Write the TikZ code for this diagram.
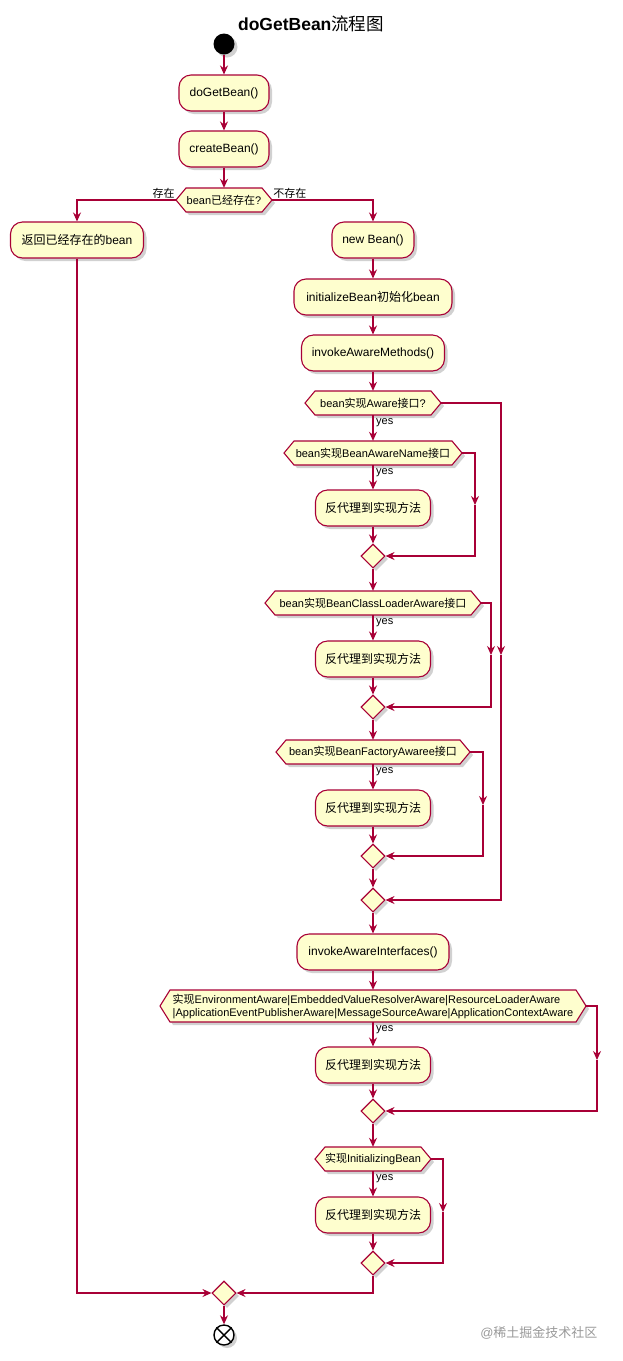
\documentclass[tikz,border=0pt]{standalone}
\usepackage{fontspec}
\setmainfont{Liberation Sans}
\newfontfamily\cjk{Noto Sans CJK SC}
\usetikzlibrary{shapes.geometric,shadows,arrows.meta}
\definecolor{pfill}{HTML}{FEFECE}
\definecolor{pline}{HTML}{A80036}
\newcommand\zh[1]{{\cjk #1}}
\newcommand\hexa[6]{%
  \path[hexp] ({#2-#4},#3) -- ({#2-#4+10},{#3-#5}) -- ({#2+#4-10},{#3-#5}) -- ({#2+#4},#3) -- ({#2+#4-10},{#3+#5}) -- ({#2-#4+10},{#3+#5}) -- cycle;
  \node[dec, minimum width={2*#4pt}, minimum height={2*#5pt}] (#1) at (#2,#3) {#6};}
\begin{document}
\begin{tikzpicture}[x=1pt,y=-1pt,
  every node/.style={font=\fontsize{12}{14}\selectfont},
  shad/.style={drop shadow={shadow xshift=3pt,shadow yshift=-3pt,opacity=0.3,fill=black!60}},
  act/.style={draw=pline,fill=pfill,line width=1.1pt,rounded corners=12pt,minimum height=36pt,inner sep=0pt,shad},
  dec/.style={inner sep=0pt,align=left,font=\fontsize{11}{13}\selectfont},
  hexp/.style={draw=pline,fill=pfill,line width=1.1pt,shad},
  merge/.style={diamond,draw=pline,fill=pfill,line width=1.1pt,minimum width=24pt,minimum height=24pt,inner sep=0pt,aspect=1,shad},
  arr/.style={draw=pline,line width=1.1pt,-{Stealth[length=9pt,width=8pt,inset=3pt]}},
  lab/.style={font=\fontsize{11}{13}\selectfont,inner sep=1pt},
]
\useasboundingbox (0,0) rectangle (622,1361);

\node (title) at (311,24) {\fontsize{17.5}{20}\selectfont\textbf{doGetBean}\zh{流程图}};
\node[circle,fill=black,minimum size=21pt,inner sep=0pt,shad] (start) at (224,44) {};

\node[act,minimum width=90pt] (b1) at (224,93) {doGetBean()};
\node[act,minimum width=90pt] (b2) at (224,149) {createBean()};
\hexa{d1}{224}{200}{48}{12}{bean\zh{已经存在}?}
\node[act,minimum width=133pt] (ret) at (77,240) {\zh{返回已经存在的}bean};
\node[act,minimum width=82pt] (newb) at (373,240) {new Bean()};
\node[act,minimum width=158pt] (init) at (373,297) {initializeBean\zh{初始化}bean};
\node[act,minimum width=143pt] (iam) at (373,353) {invokeAwareMethods()};
\hexa{dA}{373}{403}{68}{12}{bean\zh{实现}Aware\zh{接口}?}
\hexa{dN}{373}{453}{89}{12}{bean\zh{实现}BeanAwareName\zh{接口}}
\node[act,minimum width=115pt] (p1) at (373,508) {\zh{反代理到实现方法}};
\node[merge] (m1) at (373,556) {};
\hexa{dCL}{373}{603}{108}{12}{bean\zh{实现}BeanClassLoaderAware\zh{接口}}
\node[act,minimum width=115pt] (p2) at (373,659) {\zh{反代理到实现方法}};
\node[merge] (m2) at (373,707) {};
\hexa{dBF}{373}{752}{97}{12}{bean\zh{实现}BeanFactoryAwaree\zh{接口}}
\node[act,minimum width=115pt] (p3) at (373,808) {\zh{反代理到实现方法}};
\node[merge] (m3) at (373,856) {};
\node[merge] (m4) at (373,900) {};
\node[act,minimum width=152pt] (iai) at (373,952) {invokeAwareInterfaces()};
\hexa{dEnv}{373}{1006}{213}{16}{\zh{实现}EnvironmentAware|EmbeddedValueResolverAware|ResourceLoaderAware\\|ApplicationEventPublisherAware|MessageSourceAware|ApplicationContextAware}
\node[act,minimum width=115pt] (p4) at (373,1065) {\zh{反代理到实现方法}};
\node[merge] (m5) at (373,1111) {};
\hexa{dI}{373}{1159}{58}{12}{\zh{实现}InitializingBean}
\node[act,minimum width=115pt] (p5) at (373,1215) {\zh{反代理到实现方法}};
\node[merge] (m6) at (373,1263) {};
\node[merge] (mEnd) at (224,1293) {};
\node[circle,draw=black,fill=white,line width=1.4pt,minimum size=20pt,inner sep=0pt,shad] (end) at (224,1335) {};
\draw[line width=1.4pt] (end.north west) -- (end.south east) (end.north east) -- (end.south west);

\node[anchor=east,text=black!40,font=\fontsize{13}{15}\selectfont] (wm) at (601,1333) {@\zh{稀土掘金技术社区}};

% labels
\node[lab,anchor=south east] (l1) at (d1.west) {\zh{存在}};
\node[lab,anchor=south west] (l2) at (d1.east) {\zh{不存在}};
\foreach \n in {dA,dN,dCL,dBF,dEnv,dI} \node[lab,anchor=north west] at ([xshift=2pt,yshift=-2pt]\n.south) {yes};

% connectors
\draw[arr] (start) -- (b1);
\draw[arr] (b1) -- (b2);
\draw[arr] (b2) -- (d1);
\draw[arr] (d1.west) -| (ret.north);
\draw[arr] (d1.east) -| (newb.north);
\draw[arr] (newb) -- (init);
\draw[arr] (init) -- (iam);
\draw[arr] (iam) -- (dA);
\draw[arr] (dA) -- (dN);
\draw[arr] (dN) -- (p1);
\draw[arr] (p1) -- (m1);
\coordinate (cN) at (475,505);
\draw[arr] (dN.east) -| (cN);
\draw[arr] (cN) |- (m1.east);
\draw[arr] (m1) -- (dCL);
\draw[arr] (dCL) -- (p2);
\draw[arr] (p2) -- (m2);
\coordinate (cCL) at (491,655);
\draw[arr] (dCL.east) -| (cCL);
\draw[arr] (cCL) |- (m2.east);
\coordinate (cA) at (501,655);
\draw[arr] (dA.east) -| (cA);
\draw[arr] (cA) |- (m4.east);
\draw[arr] (m2) -- (dBF);
\draw[arr] (dBF) -- (p3);
\draw[arr] (p3) -- (m3);
\coordinate (cBF) at (483,805);
\draw[arr] (dBF.east) -| (cBF);
\draw[arr] (cBF) |- (m3.east);
\draw[arr] (m3) -- (m4);
\draw[arr] (m4) -- (iai);
\draw[arr] (iai) -- (dEnv);
\draw[arr] (dEnv) -- (p4);
\draw[arr] (p4) -- (m5);
\coordinate (cE) at (597,1060);
\draw[arr] (dEnv.east) -| (cE);
\draw[arr] (cE) |- (m5.east);
\draw[arr] (m5) -- (dI);
\draw[arr] (dI) -- (p5);
\draw[arr] (p5) -- (m6);
\coordinate (cI) at (443,1212);
\draw[arr] (dI.east) -| (cI);
\draw[arr] (cI) |- (m6.east);
\draw[arr] (m6.south) |- (mEnd.east);
\draw[arr] (ret.south) |- (mEnd.west);
\draw[arr] (mEnd) -- (end);
\end{tikzpicture}
\end{document}
